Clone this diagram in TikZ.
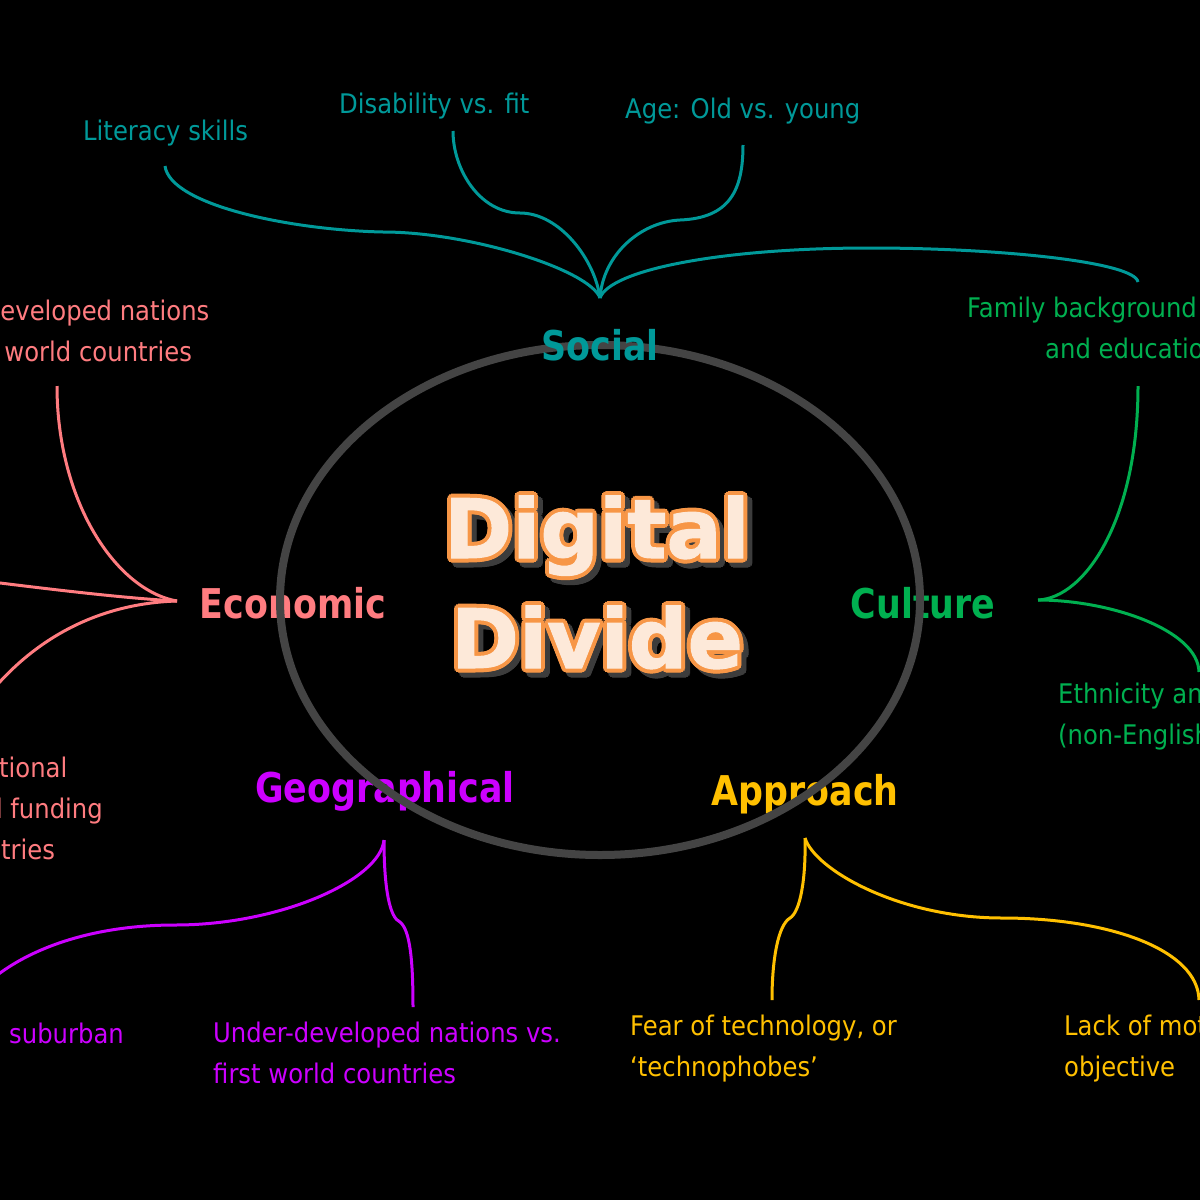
\documentclass[tikz,border=0pt]{standalone}
\usepackage{fontspec}
\setmainfont{DejaVu Sans}[FakeStretch=0.9]
\newfontfamily\catfont{DejaVu Sans}[FakeStretch=0.85]
\newfontfamily\titlefont{DejaVu Sans}[BoldFeatures={FakeBold=1.2}]
\usetikzlibrary{calc}
\definecolor{SocTeal}{RGB}{0,153,153}
\definecolor{EcoRed}{RGB}{255,124,128}
\definecolor{CulGreen}{RGB}{0,176,80}
\definecolor{GeoViolet}{RGB}{204,0,255}
\definecolor{AppGold}{RGB}{255,192,0}
\definecolor{HubGray}{RGB}{68,68,68}
\definecolor{TitlePeach}{RGB}{253,233,217}
\definecolor{TitleOrange}{RGB}{247,150,70}
\definecolor{TitleShadow}{RGB}{60,60,60}
\tikzset{
  leaf/.style={font=\fontsize{27}{41}\selectfont, inner sep=0pt},
  cat/.style={font=\catfont\bfseries\fontsize{41}{41}\selectfont, inner sep=0pt, anchor=base},
  twig/.style={line width=3pt},
  big/.style={font=\titlefont\bfseries\fontsize{82}{82}\selectfont, inner sep=0pt, anchor=base},
}
\newcommand{\bigword}[3]{%
  \foreach \a in {0,30,...,330}
    \node[big, text=TitleShadow] at ($(#1)+(5,5)+(\a:4)$) {#2};
  \foreach \a in {0,30,...,330}
    \node[big, text=TitleOrange] at ($(#1)+(\a:4)$) {#2};
  \node[big, text=TitlePeach] (#3) at (#1) {#2};}

\begin{document}
\begin{tikzpicture}[x=1pt, y=-1pt]
    \fill[black] (0,0) rectangle (1200,1200);
    \useasboundingbox (0,0) rectangle (1200,1200);
    \clip (0,0) rectangle (1200,1200);

    % branch texts
    \node[leaf, text=SocTeal, anchor=base west] (lit) at (83,140) {Literacy skills};
    \node[leaf, text=SocTeal, anchor=base west] (dis) at (339,113) {Disability vs. fit};
    \node[leaf, text=SocTeal, anchor=base west] (age) at (625,118) {Age: Old vs. young};
    \node[leaf, text=CulGreen, align=left, anchor=base west] (fam) at (967,358) {Family background\\\hspace*{78pt}and education};
    \node[leaf, text=CulGreen, align=left, anchor=base west] (eth) at (1058,744) {Ethnicity and language\\(non-English speaking)};
    \node[leaf, text=EcoRed, align=left, anchor=base west] (dev) at (-96,361) {Under-developed nations\\vs. first world countries};
    \node[leaf, text=EcoRed, align=left, anchor=base west] (aid) at (-88,859) {International\\aid and funding\\in countries};
    \node[leaf, text=GeoViolet, anchor=base east] (rur) at (124,1043) {Rural vs. suburban};
    \node[leaf, text=GeoViolet, align=left, anchor=base west] (und) at (213,1083) {Under-developed nations vs.\\first world countries};
    \node[leaf, text=AppGold, align=left, anchor=base west] (fear) at (630,1076) {Fear of technology, or\\‘technophobes’};
    \node[leaf, text=AppGold, align=left, anchor=base west] (lack) at (1064,1076) {Lack of motivation or\\objective};

    % brace tips and ends
    \coordinate (soc-tip) at (600,298);
    \coordinate (soc-lit) at (165,166);
    \coordinate (soc-dis) at (453,131);
    \coordinate (soc-age) at (743,145);
    \coordinate (soc-fam) at (1138,282);
    \coordinate (eco-tip) at (177,601);
    \coordinate (eco-dev) at (57,386);
    \coordinate (eco-a) at (-40,578);
    \coordinate (eco-b) at (-30,720);
    \coordinate (cul-tip) at (1038,600);
    \coordinate (cul-fam) at (1138,386);
    \coordinate (cul-eth) at (1199,672);
    \coordinate (geo-tip) at (384,840);
    \coordinate (geo-und) at (413,1007);
    \coordinate (geo-rur) at (-20,990);
    \coordinate (app-tip) at (805,838);
    \coordinate (app-fear) at (772,1000);
    \coordinate (app-lack) at (1199,1000);

    \draw[twig, SocTeal] (soc-tip) .. controls (590,270) and (470,232) .. (383,232) .. controls (290,230) and (170,205) .. (soc-lit);
    \draw[twig, SocTeal] (soc-tip) .. controls (595,260) and (560,213) .. (520,213) .. controls (480,213) and (453,170) .. (soc-dis);
    \draw[twig, SocTeal] (soc-tip) .. controls (603,255) and (640,222) .. (680,220) .. controls (730,218) and (743,190) .. (soc-age);
    \draw[twig, SocTeal] (soc-tip) .. controls (610,270) and (720,248) .. (870,248) .. controls (1000,248) and (1135,262) .. (soc-fam);
    \draw[twig, EcoRed] (eco-tip) .. controls (115,590) and (57,500) .. (eco-dev);
    \draw[twig, EcoRed] (eco-tip) .. controls (120,598) and (40,588) .. (eco-a);
    \draw[twig, EcoRed] (eco-tip) .. controls (110,603) and (30,630) .. (eco-b);
    \draw[twig, CulGreen] (cul-tip) .. controls (1085,598) and (1138,520) .. (cul-fam);
    \draw[twig, CulGreen] (cul-tip) .. controls (1110,600) and (1198,630) .. (cul-eth);
    \draw[twig, GeoViolet] (geo-tip) .. controls (384,890) and (390,918) .. (400,922) .. controls (410,930) and (413,960) .. (geo-und);
    \draw[twig, GeoViolet] (geo-tip) .. controls (380,880) and (280,925) .. (175,925) .. controls (90,925) and (20,950) .. (geo-rur);
    \draw[twig, AppGold] (app-tip) .. controls (806,880) and (800,912) .. (790,918) .. controls (778,925) and (772,960) .. (app-fear);
    \draw[twig, AppGold] (app-tip) .. controls (815,870) and (900,918) .. (1002,918) .. controls (1110,918) and (1198,950) .. (app-lack);

    % categories round the hub
    \node[cat, text=EcoRed] (eco) at (293,618) {Economic};
    \node[cat, text=CulGreen] (cul) at (923,618) {Culture};
    \node[cat, text=GeoViolet] (geo) at (385,802) {Geographical};
    \node[cat, text=AppGold] (app) at (805,805) {Approach};
    \draw[HubGray, line width=8pt] (600,600) ellipse [x radius=320pt, y radius=255pt];
    \node[cat, text=SocTeal] (soc) at (600,360) {Social};

    \bigword{597,558}{Digital}{title-a}
    \bigword{597,668}{Divide}{title-b}
\end{tikzpicture}
\end{document}
